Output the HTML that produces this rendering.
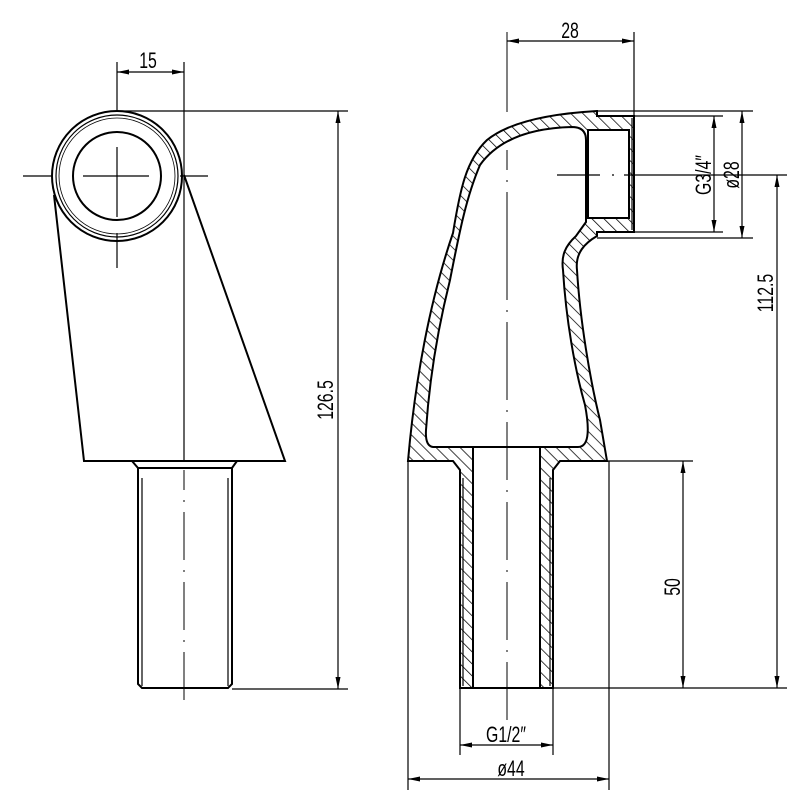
<!DOCTYPE html>
<html><head><meta charset="utf-8"><style>
html,body{margin:0;padding:0;background:#fff;}
svg{display:block;}
text{font-family:"Liberation Sans",sans-serif;font-size:22px;fill:#000;}
</style></head><body>
<svg width="800" height="799" viewBox="0 0 800 799" xmlns="http://www.w3.org/2000/svg">
<defs>
<pattern id="h" patternUnits="userSpaceOnUse" width="8.5" height="8.5" patternTransform="rotate(-45)">
<rect width="8.5" height="8.5" fill="#fff"/><line x1="0" y1="0" x2="0" y2="8.5" stroke="#000" stroke-width="1.5"/>
</pattern>
<marker id="a" viewBox="0 0 12 6" refX="12" refY="3" markerWidth="12" markerHeight="6" orient="auto-start-reverse" markerUnits="userSpaceOnUse">
<path d="M0,0.5 L12,3 L0,5.5 Z" fill="#000"/>
</marker>
</defs>
<g fill="none" stroke="#000" stroke-width="1.2">
<!-- LEFT VIEW -->
<line x1="117" y1="62" x2="117" y2="111"/>
<line x1="184" y1="62" x2="184" y2="461"/>
<line x1="117" y1="72" x2="184" y2="72" marker-start="url(#a)" marker-end="url(#a)"/>
<line x1="117" y1="111" x2="348" y2="111"/>
<line x1="338" y1="111" x2="338" y2="689" marker-start="url(#a)" marker-end="url(#a)"/>
<line x1="232" y1="689" x2="348" y2="689"/>
<g stroke-width="2">
<circle cx="117" cy="176" r="65"/>
<circle cx="117" cy="176" r="44"/>
<path d="M54,195 L84,461 L285,461 L184,175"/>
<path d="M132,461 L138,468 L232,468 L237,461"/>
<path d="M138,468 L138,684 L142,688 L228,688 L232,684 L232,468"/>
</g>
<circle cx="117" cy="176" r="61"/>
<circle cx="117" cy="176" r="58" stroke-width="0.8"/>
<line x1="142" y1="478" x2="142" y2="686"/>
<line x1="228" y1="478" x2="228" y2="686"/>
<path d="M23,176H53 M83,176H149 M180,176H208 M117,147V217 M117,233V268" />
<path d="M184,470V490 M184,500V502 M184,512V560 M184,570V572 M184,582V630 M184,640V642 M184,652V700" stroke-width="1"/>

<!-- RIGHT VIEW: hatched body -->
<path d="M408,461 C415,380 430,300 453,233 C460,190 466,160 487,140 C508,123 545,114 597,111 L597,116 L634,116 L634,232 L597,232 L597,236 C585,243 575,253 577,270 C580,320 590,380 600,420 L607,461 L560,461 L553,470 L553,688 L460,688 L460,470 L453,461 Z" fill="url(#h)" stroke-width="2"/>
<path d="M433,447 Q425,446 426,430 C430,370 440,320 450,280 C458,240 465,200 480,165 C498,140 530,128 572,127 Q586,127 586,140 L586,222 L576,236 C565,246 561,256 563,270 C566,320 575,370 585,405 Q593,447 578,447 Z" fill="#fff" stroke-width="2"/>
<rect x="588" y="130" width="41" height="88" fill="#fff" stroke-width="2"/>
<rect x="473" y="447" width="67" height="241" fill="#fff" stroke-width="2"/>
<line x1="463" y1="478" x2="463" y2="686"/>
<line x1="550" y1="478" x2="550" y2="686"/>
<line x1="632" y1="118" x2="632" y2="230"/>
<line x1="408" y1="461" x2="453" y2="461" stroke-width="2"/>
<line x1="560" y1="461" x2="607" y2="461" stroke-width="2"/>
<!-- centerline -->
<path d="M507,32V112 M507,150V170 M507,180V182 M507,192V300 M507,310V312 M507,322V400 M507,410V412 M507,422V480 M507,490V492 M507,502V560 M507,570V572 M507,582V640 M507,650V652 M507,662V720" stroke-width="1"/>
<path d="M557,175H600 M612,175H614 M624,175H787"/>
<!-- dims -->
<line x1="634" y1="32" x2="634" y2="116"/>
<line x1="507" y1="41" x2="634" y2="41" marker-start="url(#a)" marker-end="url(#a)"/>
<line x1="597" y1="111" x2="753" y2="111"/>
<line x1="634" y1="116" x2="723" y2="116"/>
<line x1="634" y1="232" x2="723" y2="232"/>
<line x1="597" y1="238" x2="753" y2="238"/>
<line x1="714" y1="116" x2="714" y2="232" marker-start="url(#a)" marker-end="url(#a)"/>
<line x1="742" y1="111" x2="742" y2="238" marker-start="url(#a)" marker-end="url(#a)"/>
<line x1="777" y1="175" x2="777" y2="688" marker-start="url(#a)" marker-end="url(#a)"/>
<line x1="553" y1="688" x2="787" y2="688"/>
<line x1="607" y1="461" x2="693" y2="461"/>
<line x1="683" y1="461" x2="683" y2="688" marker-start="url(#a)" marker-end="url(#a)"/>
<line x1="460" y1="688" x2="460" y2="755"/>
<line x1="553" y1="688" x2="553" y2="755"/>
<line x1="460" y1="745" x2="553" y2="745" marker-start="url(#a)" marker-end="url(#a)"/>
<line x1="408" y1="461" x2="408" y2="790"/>
<line x1="609" y1="461" x2="609" y2="790"/>
<line x1="408" y1="779" x2="609" y2="779" marker-start="url(#a)" marker-end="url(#a)"/>
</g>
<text transform="translate(148,68) scale(0.72,1)" text-anchor="middle">15</text>
<text transform="translate(570,38) scale(0.72,1)" text-anchor="middle">28</text>
<text transform="translate(333,400) rotate(-90) scale(0.72,1)" text-anchor="middle">126.5</text>
<text transform="translate(711,175) rotate(-90) scale(0.72,1)" text-anchor="middle">G3/4″</text>
<text transform="translate(739,175) rotate(-90) scale(0.72,1)" text-anchor="middle">ø28</text>
<text transform="translate(773,293) rotate(-90) scale(0.72,1)" text-anchor="middle">112.5</text>
<text transform="translate(680,587) rotate(-90) scale(0.72,1)" text-anchor="middle">50</text>
<text transform="translate(506,742) scale(0.72,1)" text-anchor="middle">G1/2″</text>
<text transform="translate(511,776) scale(0.72,1)" text-anchor="middle">ø44</text>
</svg>
</body></html>
